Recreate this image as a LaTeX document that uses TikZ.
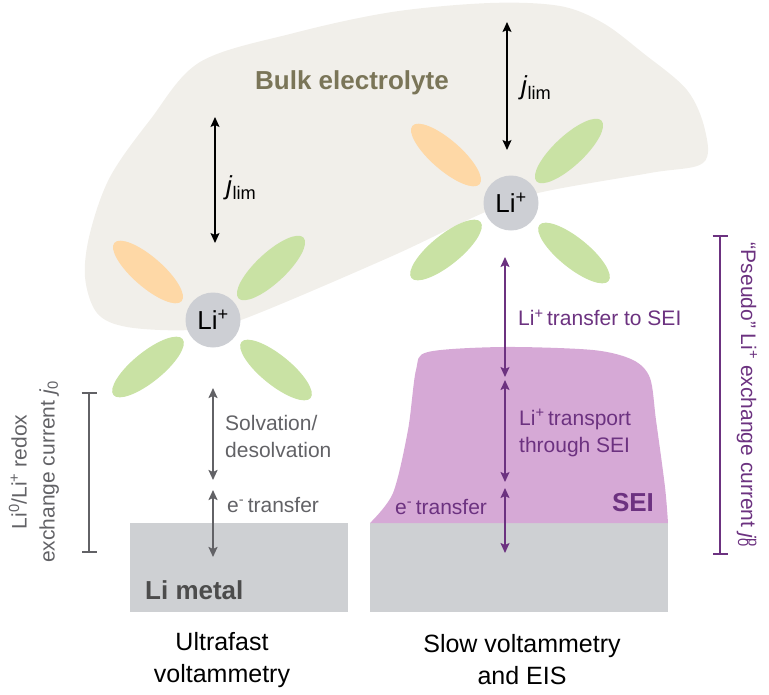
\documentclass[tikz,border=0pt]{standalone}
\usepackage{fontspec}
\setmainfont{Liberation Sans}
\usepackage{xcolor}
\usepackage{tikz}
\usetikzlibrary{shapes.geometric, arrows.meta, positioning, calc}
\definecolor{bulkbeige}{RGB}{241,239,234}
\definecolor{bulkolive}{RGB}{122,117,88}
\definecolor{solvorange}{RGB}{254,216,166}
\definecolor{solvgreen}{RGB}{201,226,164}
\definecolor{iongray}{RGB}{205,207,212}
\definecolor{metalgray}{RGB}{206,208,211}
\definecolor{seipink}{RGB}{214,169,214}
\definecolor{seipurple}{RGB}{108,50,128}
\definecolor{stepgray}{RGB}{98,98,102}

\begin{document}
\begin{tikzpicture}[x=1pt, y=-1pt,
    ion/.style={circle, fill=iongray, minimum size=55pt, inner sep=0pt, font=\fontsize{26}{30}\selectfont},
    solvent/.style={ellipse, minimum width=89pt, minimum height=30pt, inner sep=0pt},
    flux/.style={{Stealth[length=10pt,width=9pt,inset=2pt]}-{Stealth[length=10pt,width=9pt,inset=2pt]}},
    lbl/.style={font=\fontsize{21}{27}\selectfont, align=left, anchor=west, inner sep=0pt},
    biglbl/.style={font=\fontsize{26}{30}\selectfont\bfseries, inner sep=0pt},
    bracket/.style={{Bar[width=15pt]}-{Bar[width=15pt]}, line width=2pt}]
\useasboundingbox (0,0) rectangle (769,694);

% bulk electrolyte
\fill[bulkbeige] plot[smooth cycle, tension=0.55] coordinates {(85,277) (90,233) (110,177) (150,120) (200,62) (294,33) (392,12) (490,3) (560,6) (603,23) (643,53) (687,90) (705,130) (703,163) (650,173) (538,193) (483,213) (390,257) (241,320) (190,330) (127,327) (97,313)};
\node[biglbl, bulkolive] (bulk) at (352,83) {Bulk electrolyte};

% electrodes
\fill[metalgray] (130,523) rectangle (348,612);
\fill[metalgray] (370,523) rectangle (668,612);
\fill[seipink] plot[smooth, tension=0.5] coordinates {(370,523) (393,493) (408,430) (416,370) (428,352) (503,347) (593,350) (633,360) (650,378) (656,420) (665,487) (668,523)} -- cycle;
\node[biglbl, anchor=west, color=black!70] (metal) at (145,590) {Li metal};
\node[biglbl, seipurple] (sei) at (633,503) {SEI};

% solvated ions
\coordinate (ionL) at (213,320);
\coordinate (ionR) at (511,203);
\foreach \c in {ionL, ionR} {
    \node[solvent, fill=solvorange, rotate=-41] at ($(\c)+(-65,-48)$) {};
    \node[solvent, fill=solvgreen, rotate=43] at ($(\c)+(58,-52)$) {};
    \node[solvent, fill=solvgreen, rotate=39] at ($(\c)+(-65,47)$) {};
    \node[solvent, fill=solvgreen, rotate=-39] at ($(\c)+(63,50)$) {};
}
\node[ion] (liL) at (ionL) {Li\textsuperscript{+}};
\node[ion] (liR) at (ionR) {Li\textsuperscript{+}};

% limiting current
\coordinate (jLa) at (215,117); \coordinate (jLb) at (215,243);
\coordinate (jRa) at (507,22); \coordinate (jRb) at (507,150);
\draw[flux, line width=1.3pt] (jLa) -- (jLb);
\draw[flux, line width=1.3pt] (jRa) -- (jRb);
\node[lbl, font=\fontsize{26}{30}\selectfont] (jlimL) at (226,188) {\textit{j}\textsubscript{lim}};
\node[lbl, font=\fontsize{26}{30}\selectfont] (jlimR) at (521,88) {\textit{j}\textsubscript{lim}};

% ultrafast side
\coordinate (gA) at (213,388); \coordinate (gB) at (213,480);
\coordinate (gC) at (213,490); \coordinate (gD) at (213,557);
\draw[flux, stepgray, line width=2pt] (gA) -- (gB);
\draw[flux, stepgray, line width=2pt] (gC) -- (gD);
\node[lbl, stepgray] (solv) at (225,436) {Solvation/\\desolvation};
\node[lbl, stepgray] (etrL) at (227,505) {e\textsuperscript{-}\,transfer};

% slow side
\coordinate (pA) at (505,257); \coordinate (pB) at (505,377);
\coordinate (pC) at (505,380); \coordinate (pD) at (505,482);
\coordinate (pE) at (505,488); \coordinate (pF) at (505,553);
\draw[flux, seipurple, line width=1.5pt] (pA) -- (pB);
\draw[flux, seipurple, line width=1.5pt] (pC) -- (pD);
\draw[flux, seipurple, line width=1.5pt] (pE) -- (pF);
\node[lbl, seipurple] (toSEI) at (518,318) {Li\textsuperscript{+}\,transfer to SEI};
\node[lbl, seipurple] (thrSEI) at (519,433) {Li\textsuperscript{+}\,transport\\through SEI};
\node[lbl, seipurple] (etrR) at (395,507) {e\textsuperscript{-}\,transfer};

% exchange currents
\coordinate (bLa) at (89,392); \coordinate (bLb) at (89,553);
\coordinate (bRa) at (720,235); \coordinate (bRb) at (720,555);
\draw[bracket, stepgray] (bLa) -- (bLb);
\draw[bracket, seipurple] (bRa) -- (bRb);
\node[font=\fontsize{21}{28}\selectfont, stepgray, align=center, rotate=90, inner sep=0pt] (j0) at (34,472) {Li\textsuperscript{0}/Li\textsuperscript{+} redox\\exchange current \textit{j}\textsubscript{0}};
\node[font=\fontsize{21}{28}\selectfont, seipurple, rotate=-90, inner sep=0pt] (j0p) at (747,395) {“Pseudo” Li\textsuperscript{+} exchange current \textit{j}\rlap{\textsuperscript{p}}\textsubscript{0}};

% methods
\node[font=\fontsize{25}{32}\selectfont, align=center, inner sep=0pt] (fast) at (222,660) {Ultrafast\\voltammetry};
\node[font=\fontsize{25}{32}\selectfont, align=center, inner sep=0pt] (slow) at (522,660) {Slow voltammetry\\and EIS};
\end{tikzpicture}
\end{document}
